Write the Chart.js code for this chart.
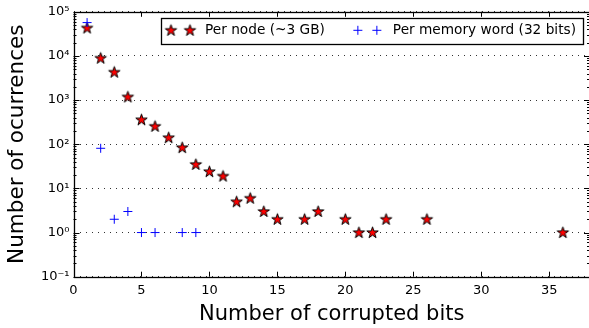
<!DOCTYPE html>
<html><head><meta charset="utf-8">
<script src="https://cdn.jsdelivr.net/npm/chart.js@4/dist/chart.umd.min.js"></script>
<style>
html,body{margin:0;padding:0;overflow:hidden;background:#fff}
#wrap{width:589px;height:328px;position:relative;overflow:hidden}
canvas{display:block}
</style>
</head><body>
<div id="wrap"><canvas id="c" width="597" height="328" style="width:597px;height:328px"></canvas></div>
<script>
// ---- data ----
const nodeBits   = [1, 2, 3, 4, 5, 6, 7, 8, 9, 10, 11, 12, 13, 14, 15, 17, 18, 20, 21, 22, 23, 26, 36];
const nodeCounts = [43000, 8900, 4300, 1180, 360, 255, 141, 84, 35, 24, 19, 5, 6, 3, 2, 2, 3, 2, 1, 1, 2, 2, 1];
const wordBits   = [1, 2, 3, 4, 5, 6, 8, 9];
const wordCounts = [57000, 81, 2, 3, 1, 1, 1, 1];
const seriesLabels = ['Per node (~3 GB)', 'Per memory word (32 bits)'];
const xTickValues = [0, 5, 10, 15, 20, 25, 30, 35];
const yTickValues = [0.1, 1, 10, 100, 1000, 10000, 100000];
const yTickLabels = ['10\u207B\u00B9', '10\u2070', '10\u00B9', '10\u00B2', '10\u00B3', '10\u2074', '10\u2075'];
const xTitle = 'Number of corrupted bits';
const yTitle = 'Number of ocurrences';

const FONT = '"DejaVu Sans", sans-serif';

// star marker image
function makeStar() {
  const cv = document.createElement('canvas');
  cv.width = 15; cv.height = 15;
  const g = cv.getContext('2d');
  const cx = 7.5, cy = 7.8, R = 6.0, r = R * 0.382;
  g.beginPath();
  for (let i = 0; i < 10; i++) {
    const a = -Math.PI / 2 + i * Math.PI / 5;
    const rad = i % 2 === 0 ? R : r;
    const px = cx + rad * Math.cos(a), py = cy + rad * Math.sin(a);
    if (i === 0) g.moveTo(px, py); else g.lineTo(px, py);
  }
  g.closePath();
  g.fillStyle = '#ff0000';
  g.fill();
  g.lineWidth = 1;
  g.strokeStyle = '#000';
  g.stroke();
  return cv;
}
const starImg = makeStar();

const frameTicks = {
  id: 'frameTicks',
  afterDatasetsDraw(chart) {
    const {ctx, chartArea: a, scales} = chart;
    const xs = scales.x, ys = scales.y;
    ctx.save();
    ctx.strokeStyle = '#000';
    ctx.lineWidth = 1;
    ctx.beginPath();
    xTickValues.forEach(v => {
      const px = Math.round(xs.getPixelForValue(v)) + 0.5;
      ctx.moveTo(px, a.bottom); ctx.lineTo(px, a.bottom - 5);
      ctx.moveTo(px, a.top); ctx.lineTo(px, a.top + 5);
    });
    yTickValues.forEach(v => {
      const py = Math.round(ys.getPixelForValue(v)) + 0.5;
      ctx.moveTo(a.left, py); ctx.lineTo(a.left + 6, py);
      ctx.moveTo(a.right, py); ctx.lineTo(a.right - 6, py);
    });
    for (let d = -1; d < 5; d++) {
      for (let k = 2; k <= 9; k++) {
        const v = k * Math.pow(10, d);
        const py = Math.round(ys.getPixelForValue(v)) + 0.5;
        ctx.moveTo(a.left, py); ctx.lineTo(a.left + 3, py);
        ctx.moveTo(a.right, py); ctx.lineTo(a.right - 3, py);
      }
    }
    ctx.stroke();
    ctx.lineWidth = 1.3;
    ctx.strokeRect(Math.round(a.left) + 0.5, Math.round(a.top) + 0.5,
                   Math.round(a.right - a.left), Math.round(a.bottom - a.top));
    ctx.restore();
  },
  afterDraw(chart) {
    const {ctx, chartArea: a} = chart;
    ctx.save();
    ctx.font = '13.7px ' + FONT;
    const w1 = ctx.measureText(seriesLabels[0]).width;
    const w2 = ctx.measureText(seriesLabels[1]).width;
    const total = 44 + w1 + 33 + 35 + w2 + 7;
    const right = a.right - 7, top = a.top + 6, h = 26;
    const left = right - total;
    ctx.fillStyle = '#fff';
    ctx.fillRect(left, top, total, h);
    ctx.strokeStyle = '#000';
    ctx.lineWidth = 1.3;
    ctx.strokeRect(Math.round(left) + 0.5, Math.round(top) + 0.5, Math.round(total), h);
    const cy = top + 12.5;
    [left + 10, left + 29].forEach(x => ctx.drawImage(starImg, x - 7.5, cy - 7.5));
    ctx.fillStyle = '#000';
    ctx.textBaseline = 'middle';
    ctx.textAlign = 'left';
    ctx.fillText(chart.data.datasets[0].label, left + 44, cy + 0.5);
    const c1 = left + 44 + w1 + 33;
    ctx.strokeStyle = '#0000ff';
    ctx.lineWidth = 1;
    ctx.beginPath();
    [c1, c1 + 19].forEach(x => {
      ctx.moveTo(x - 4.5, cy); ctx.lineTo(x + 4.5, cy);
      ctx.moveTo(x, cy - 4.5); ctx.lineTo(x, cy + 4.5);
    });
    ctx.stroke();
    ctx.fillText(chart.data.datasets[1].label, c1 + 35, cy + 0.5);
    ctx.restore();
  }
};

new Chart(document.getElementById('c'), {
  type: 'scatter',
  data: {
    datasets: [
      {
        label: seriesLabels[0],
        data: nodeBits.map((b, i) => ({x: b, y: nodeCounts[i]})),
        pointStyle: starImg,
        pointRadius: 6,
        showLine: false,
        order: 2
      },
      {
        label: seriesLabels[1],
        data: wordBits.map((b, i) => ({x: b, y: wordCounts[i]})),
        pointStyle: 'cross',
        pointRadius: 4.5,
        borderColor: '#0000ff',
        backgroundColor: '#0000ff',
        pointBorderColor: '#0000ff',
        borderWidth: 1,
        showLine: false,
        order: 1
      }
    ]
  },
  options: {
    responsive: false,
    animation: false,
    devicePixelRatio: 1,
    events: [],
    layout: {padding: {top: 10, right: 0, left: 0, bottom: 0}},
    plugins: {legend: {display: false}, tooltip: {enabled: false}},
    scales: {
      x: {
        type: 'linear',
        min: 0, max: 38,
        afterBuildTicks: s => { s.ticks = xTickValues.map(v => ({value: v})); },
        afterFit: s => { s.height = 51.3; },
        grid: {display: false, drawTicks: false},
        border: {display: false},
        ticks: {font: {family: FONT, size: 13}, color: '#000', padding: 6, maxRotation: 0, autoSkip: false},
        title: {display: true, text: xTitle, font: {family: FONT, size: 21}, color: '#000', padding: {top: 0, bottom: 1}}
      },
      y: {
        type: 'logarithmic',
        min: 0.1, max: 100000,
        afterBuildTicks: s => { s.ticks = yTickValues.map(v => ({value: v})); },
        afterFit: s => { s.width = 73.5; },
        grid: {color: '#333', lineWidth: 1, drawTicks: false},
        border: {display: false, dash: [1, 5]},
        ticks: {
          font: {family: FONT, size: 13}, color: '#000', padding: 4, autoSkip: false,
          callback: (v) => { const i = yTickValues.findIndex(t => Math.abs(t - v) / t < 1e-6); return i >= 0 ? yTickLabels[i] : ''; }
        },
        title: {display: true, text: yTitle, font: {family: FONT, size: 21.5}, color: '#000', padding: {top: 5, bottom: 0}}
      }
    }
  },
  plugins: [frameTicks]
});
</script>
</body></html>
